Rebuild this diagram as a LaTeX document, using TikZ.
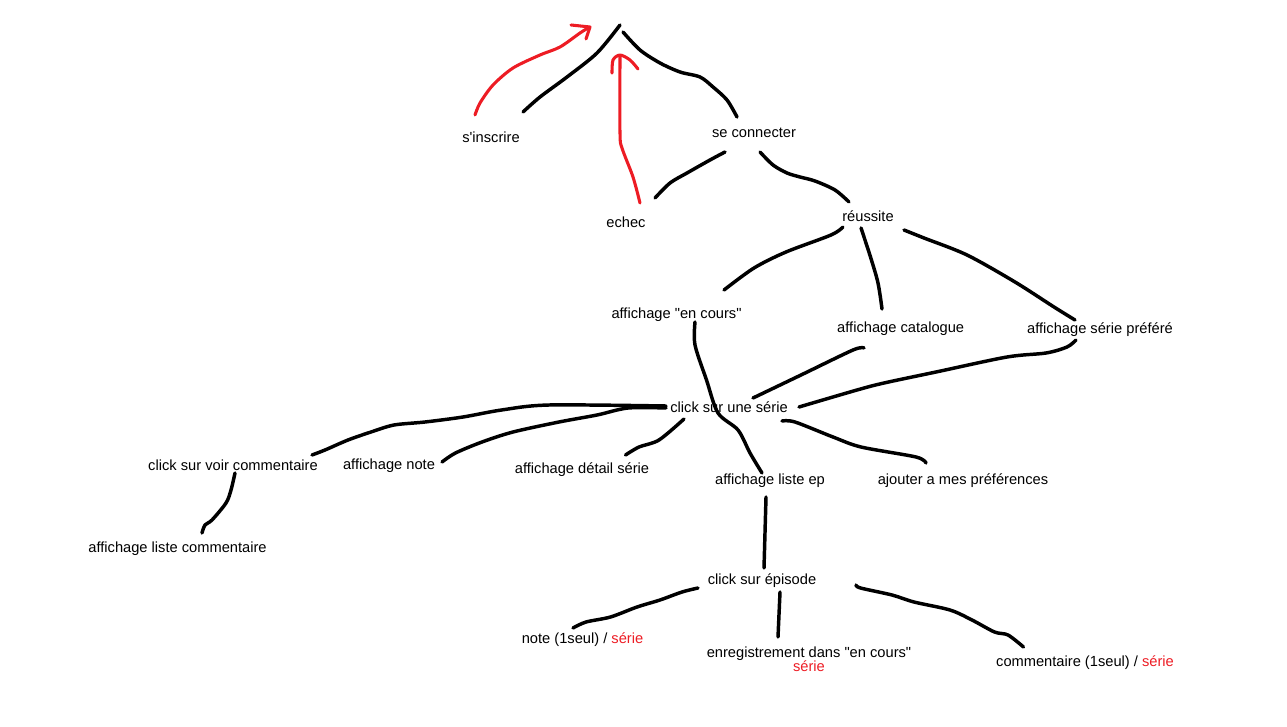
\documentclass[tikz,border=0pt]{standalone}
\usepackage{fontspec}
\newfontfamily\paintfont{Liberation Sans}
\definecolor{paintred}{RGB}{237,28,36}
\tikzset{
  txt/.style={font=\paintfont\fontsize{11}{12}\selectfont, inner sep=0pt, text height=10pt, text depth=1.5pt},
  trait/.style={line width=2.6pt, line cap=round, line join=round},
  retour/.style={trait, color=paintred, line width=2.3pt},
}
\begin{document}
\begin{tikzpicture}[x=0.75pt,y=0.75pt,yscale=-1]
\useasboundingbox (0,0) rectangle (1287,727);

% Text Node
\coordinate (sommet) at (620,25);
\node[txt] (inscrire) at (491,137) {s'inscrire};
\node[txt] (connecter) at (754,132) {se connecter};
\node[txt] (echec) at (626,222) {echec};
\node[txt] (reussite) at (868,216) {réussite};
\node[txt] (encours) at (676.5,313) {affichage "en cours"};
\node[txt] (catalogue) at (900.7,327) {affichage catalogue};
\node[txt] (prefere) at (1100,328) {affichage série préféré};
\node[txt] (serie) at (729,407) {click sur une série};
\node[txt] (voircom) at (233,465) {click sur voir commentaire};
\node[txt] (note) at (389,464) {affichage note};
\node[txt] (detail) at (582,468) {affichage détail série};
\node[txt] (listeep) at (770,479) {affichage liste ep};
\node[txt] (ajouter) at (963,479) {ajouter a mes préférences};
\node[txt] (listecom) at (177.5,547) {affichage liste commentaire};
\node[txt] (episode) at (762,579) {click sur épisode};
\node[txt] (notep) at (582.5,638) {note (1seul) / \textcolor{paintred}{série}};
\node[txt, text height=, text depth=, align=center, anchor=north, font=\paintfont\fontsize{11}{10.5}\selectfont] (enreg) at (809,646.5) {enregistrement dans "en cours"\\\textcolor{paintred}{série}};
\node[txt] (commentp) at (1085,661) {commentaire (1seul) / \textcolor{paintred}{série}};

%Curve Lines
\draw[trait] plot[smooth,tension=.5] coordinates {([shift={(32,-25)}]inscrire.center) (540,97) (567,77) (597,53) (sommet)};
\draw[trait] plot[smooth,tension=.5] coordinates {([shift={(3,7)}]sommet) (640,50) (660,63) (680,72) (700,77) (713,87) (727,100) ([shift={(-17,-15)}]connecter.center)};
\draw[trait] plot[smooth,tension=.5] coordinates {([shift={(-29,20)}]connecter.center) (710,160) (687,173) (670,183) ([shift={(29,-24)}]echec.center)};
\draw[trait] plot[smooth,tension=.5] coordinates {([shift={(6,20)}]connecter.center) (773,165) (787,173) (800,177) (815,181) (835,190) ([shift={(-19,-14)}]reussite.center)};
\draw[trait] plot[smooth,tension=.5] coordinates {([shift={(-25,11)}]reussite.center) (831,235) (786,252) (754,268) ([shift={(47.5,-23)}]encours.center)};
\draw[trait] plot[smooth,tension=.5] coordinates {([shift={(-7,12)}]reussite.center) (870.5,257) (878,283) ([shift={(-18.7,-18)}]catalogue.center)};
\draw[trait] plot[smooth,tension=.5] coordinates {([shift={(36,14)}]reussite.center) (924,238) (967,255) (1015,282) (1054,307) ([shift={(-25,-8)}]prefere.center)};
\draw[trait] plot[smooth,tension=.5] coordinates {([shift={(18.5,9)}]encours.center) (695,345) (706.5,380) (718,413) (738,430) (750,453) ([shift={(-8,-6)}]listeep.center)};
\draw[trait] plot[smooth,tension=.5] coordinates {([shift={(-36.7,21)}]catalogue.center) (853,350) (801,375) ([shift={(24,-9)}]serie.center)};
\draw[trait] plot[smooth,tension=.5] coordinates {([shift={(-24,12)}]prefere.center) (1067,347) (1046,353) (1007,357) (936,372) (884,383) (857,390) ([shift={(70,0)}]serie.center)};
\draw[trait] plot[smooth,tension=.5] coordinates {([shift={(53,14)}]serie.center) (795,422) (833,437) (861,447) (916,457) ([shift={(-37,-16)}]ajouter.center)};
\draw[trait] plot[smooth,tension=.5] coordinates {([shift={(-45,12)}]serie.center) (659,440) (639,447) ([shift={(43.5,-13)}]detail.center)};
\draw[trait] plot[smooth,tension=.5] coordinates {([shift={(-63,-1)}]serie.center) (549,405) (501.5,410) (463,417) (425,422) (394,425) (371,432) (348,440) (325,450) ([shift={(79,-10)}]voircom.center)};
\draw[trait] plot[smooth,tension=.5] coordinates {([shift={(-63,1)}]serie.center) (628,408) (597,415) (559,422) (513,432) (482,442) (455.5,453) ([shift={(53,-2)}]note.center)};
\draw[trait] plot[smooth,tension=.5] coordinates {([shift={(2,8)}]voircom.center) (231,490) (226,503) (212,520) (205,525) ([shift={(24.5,-14)}]listecom.center)};
\draw[trait] ([shift={(-4,18)}]listeep.center) -- ([shift={(2,-11)}]episode.center);
\draw[trait] plot[smooth,tension=.5] coordinates {([shift={(-64,9)}]episode.center) (682,592) (660,600) (637,607) (610.5,617) (586,622) ([shift={(-9.5,-10)}]notep.center)};
\draw[trait] ([shift={(18,13)}]episode.center) -- ([shift={(-31,-9.5)}]enreg.north);
\draw[trait] plot[smooth,tension=.5] coordinates {([shift={(94,6)}]episode.center) (860.5,588) (892,595) (914,602) (950,610) (972,620) (994.5,632) (1008,635) ([shift={(-61.5,-14)}]commentp.center)};

%Red arrows
\draw[retour] plot[smooth,tension=.5] coordinates {([shift={(-16,-22)}]inscrire.center) (480,103) (493,85) (513,68) (540,55) (560,47) (580,33) ([shift={(-32,3)}]sommet)};
\draw[retour] ([shift={(-49,0)}]sommet) -- ([shift={(-30,2)}]sommet) -- ([shift={(-34,14)}]sommet);
\draw[retour] plot[smooth,tension=.5] coordinates {([shift={(14,-19)}]echec.center) (633,177) (622,148) (620,133) ([shift={(0,32)}]sommet)};
\draw[retour] plot[smooth,tension=.5] coordinates {([shift={(-8,48)}]sommet) ([shift={(-7,35)}]sommet) ([shift={(0,30)}]sommet) ([shift={(10,35)}]sommet) ([shift={(18,44)}]sommet)};

\end{tikzpicture}
\end{document}
